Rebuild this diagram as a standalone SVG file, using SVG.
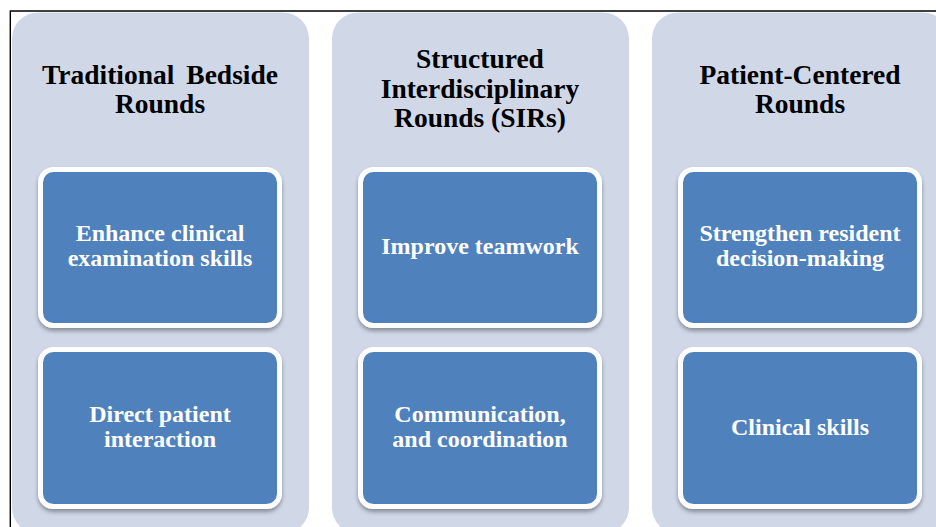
<svg xmlns="http://www.w3.org/2000/svg" width="936" height="527" viewBox="0 0 936 527">
<style>
.panel{fill:#D0D8E8}
.box{fill:#4F81BD;stroke:#FFFFFF;stroke-width:5;filter:url(#sh)}
.hd{font-family:"Liberation Serif","Times New Roman",serif;font-weight:bold;font-size:27.5px;fill:#000;text-anchor:middle}
.bt{font-family:"Liberation Serif","Times New Roman",serif;font-weight:bold;font-size:24px;fill:#FFFFFF;text-anchor:middle}
</style>
<defs>
<filter id="sh" x="-10%" y="-10%" width="120%" height="125%">
<feDropShadow dx="0" dy="3" stdDeviation="2" flood-color="#000" flood-opacity="0.35"/>
</filter>
</defs>
<rect x="0" y="0" width="936" height="527" fill="#FFFFFF"/>
<path d="M10.3 527 V11 H936" fill="none" stroke="#000" stroke-width="1.4"/>
<g id="col-traditional">
<rect class="panel" x="12" y="12.5" width="297" height="521" rx="26"/>
<text class="hd" x="160" y="84" word-spacing="5">Traditional Bedside</text>
<text class="hd" x="160" y="113">Rounds</text>
</g>
<g id="col-sir">
<rect class="panel" x="332" y="12.5" width="297" height="521" rx="26"/>
<text class="hd" x="480" y="68">Structured</text>
<text class="hd" x="480" y="98">Interdisciplinary</text>
<text class="hd" x="480" y="127">Rounds (SIRs)</text>
</g>
<g id="col-patient">
<rect class="panel" x="652" y="12.5" width="297" height="521" rx="26"/>
<text class="hd" x="800" y="84">Patient-Centered</text>
<text class="hd" x="800" y="113">Rounds</text>
</g>
<g id="box-enhance">
<rect class="box" x="40.5" y="169.5" width="239" height="156" rx="13"/>
<text class="bt" x="160" y="241">Enhance clinical</text>
<text class="bt" x="160" y="266">examination skills</text>
</g>
<g id="box-direct">
<rect class="box" x="40.5" y="349.5" width="239" height="157" rx="13"/>
<text class="bt" x="160" y="422">Direct patient</text>
<text class="bt" x="160" y="447">interaction</text>
</g>
<g id="box-teamwork">
<rect class="box" x="360.5" y="169.5" width="239" height="156" rx="13"/>
<text class="bt" x="480" y="254">Improve teamwork</text>
</g>
<g id="box-communication">
<rect class="box" x="360.5" y="349.5" width="239" height="157" rx="13"/>
<text class="bt" x="480" y="422">Communication,</text>
<text class="bt" x="480" y="447">and coordination</text>
</g>
<g id="box-decision">
<rect class="box" x="680.5" y="169.5" width="239" height="156" rx="13"/>
<text class="bt" x="800" y="241">Strengthen resident</text>
<text class="bt" x="800" y="266">decision-making</text>
</g>
<g id="box-clinical">
<rect class="box" x="680.5" y="349.5" width="239" height="157" rx="13"/>
<text class="bt" x="800" y="435">Clinical skills</text>
</g>
<g id="connectors"></g>
</svg>
